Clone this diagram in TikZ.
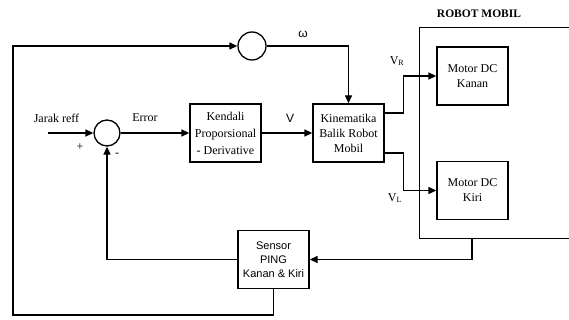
\documentclass[tikz,border=0pt]{standalone}
\usepackage{fontspec}
\setmainfont{Liberation Serif}
\newfontfamily\arialfont{Liberation Sans}
\usetikzlibrary{arrows.meta,positioning}
\tikzset{
  blok/.style={draw, line width=1.3pt, minimum width=71pt, minimum height=58pt,
               align=center, inner sep=1pt, font=\fontsize{12}{15}\selectfont},
  sumcirc/.style={draw, circle, line width=1.3pt, minimum size=#1, inner sep=0pt},
  sumcirc/.default=26pt,
  flow/.style={-{Triangle[length=8pt,width=7pt]}, line width=1.3pt},
  lbl/.style={font=\fontsize{12}{14}\selectfont, inner sep=0pt},
}

\begin{document}
\begin{tikzpicture}[x=1pt, y=1pt]
  \useasboundingbox (0,0) rectangle (569,-320);

  % robot mobil (right side runs off the page)
  \draw[line width=0.6pt] (569,-27) -| (419,-238) -- (569,-238);
  \node[lbl, font=\fontsize{11.5}{13}\selectfont\bfseries] (robot) at (479,-14) {ROBOT MOBIL};
  \coordinate (rb) at (472,-238);

  % blocks
  \node[sumcirc] (sum) at (107,-133) {};
  \node[sumcirc=28pt] (wsum) at (252,-46) {};
  \node[blok, font=\fontsize{12}{17}\selectfont] (pd) at (225.5,-133) {Kendali\\ Proporsional\\ - Derivative};
  \node[blok] (kin) at (348.5,-133) {Kinematika\\ Balik Robot\\ Mobil};
  \node[blok] (mkanan) at (472.5,-76) {Motor DC\\ Kanan};
  \node[blok] (mkiri) at (472.5,-190.5) {Motor DC\\ Kiri};
  \node[blok, font=\fontsize{11}{14}\selectfont\arialfont] (sensor) at (273.5,-259.5) {Sensor\\ PING\\ Kanan \& Kiri};
  \coordinate (in) at (48,-133);
  \coordinate (lo) at (13,-315);

  % signals
  \draw[flow] (in) -- (sum);
  \draw[flow] (sum) -- (pd);
  \draw[flow] (pd) -- (kin);
  \draw[flow] ([yshift=20pt]kin.east) -- ++(19,0) |- (mkanan);
  \draw[flow] ([yshift=-20pt]kin.east) -- ++(19,0) |- (mkiri);
  \draw[flow] (rb) |- (sensor);
  \draw[flow] (sensor) -| (sum);
  \draw[flow] (sensor.south) |- (lo) |- (wsum);
  \draw[flow] (wsum) -| (kin);

  % labels
  \node[lbl] (ref) at (56.5,-118) {Jarak reff};
  \node[lbl] (err) at (145,-118) {Error};
  \node[lbl, font=\fontsize{12}{14}\selectfont\arialfont] (v) at (290,-118) {V};
  \node[lbl, font=\fontsize{12}{14}\selectfont\arialfont] (om) at (303,-34) {ω};
  \node[lbl] (vr) at (397,-61) {V\textsubscript{R}};
  \node[lbl] (vl) at (395,-198) {V\textsubscript{L}};
  \node[lbl] (plus) at (80,-147) {+};
  \node[lbl] (minus) at (117,-155) {-};
\end{tikzpicture}
\end{document}
